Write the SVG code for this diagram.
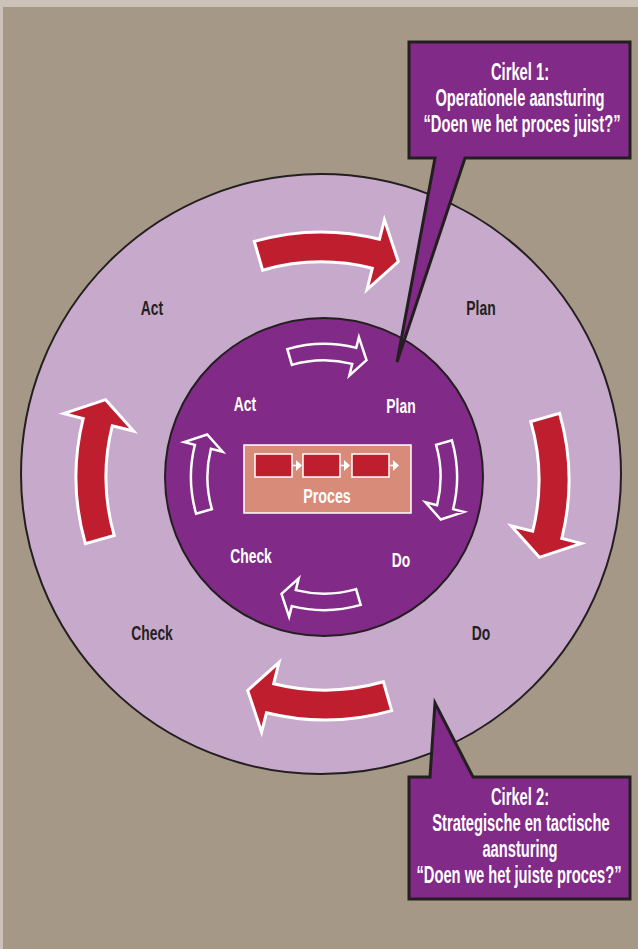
<svg xmlns="http://www.w3.org/2000/svg" width="638" height="949" viewBox="0 0 638 949">
<style>
.lbl{font-family:"Liberation Sans",Arial,sans-serif;font-weight:bold;text-anchor:middle}
.out{fill:#231f20;font-size:21px}
.inn{fill:#ffffff;font-size:21px}
.call{fill:#ffffff;font-size:23px}
.red{fill:#be1e2d;stroke:#ffffff;stroke-width:3;stroke-linejoin:miter}
.wht{fill:none;stroke:#ffffff;stroke-width:2.5;stroke-linejoin:miter}
.bubble{fill:#812a87;stroke:#231f20;stroke-width:3;stroke-linejoin:miter}
</style>
<defs>
<path id="bigArrow" d="M-66.7,-232.6 A242,242 0 0 1 58.5,-234.8 L63.4,-254.2 L77.3,-212.4 L46,-184.4 L51.3,-205.7 A212,212 0 0 0 -58.4,-203.8 Z"/>
<path id="smallArrow" d="M-36.7,-127.9 A133.1,133.1 0 0 1 32.2,-129.1 L34.9,-139.8 L42.5,-116.8 L25.3,-101.4 L28.2,-113.1 A116.6,116.6 0 0 0 -32.1,-112.1 Z"/>
</defs>
<rect x="0" y="0" width="638" height="949" fill="#cdc2b8"/>
<rect x="3" y="7" width="635" height="942" fill="#a69886"/>

<g id="outer-circle">
<circle cx="321" cy="474" r="300" fill="#c7aacb" stroke="#231f20" stroke-width="2"/>
</g>
<g id="inner-circle">
<circle cx="324" cy="477" r="159" fill="#812a87" stroke="#231f20" stroke-width="2"/>
</g>

<g id="connectors">
<use href="#bigArrow" class="red" transform="translate(321,474)"/>
<use href="#bigArrow" class="red" transform="translate(327,480) rotate(90)"/>
<use href="#bigArrow" class="red" transform="translate(325,478) rotate(180)"/>
<use href="#bigArrow" class="red" transform="translate(318,477) rotate(-90)"/>
<use href="#smallArrow" class="wht" transform="translate(324,477)"/>
<use href="#smallArrow" class="wht" transform="translate(324,477) rotate(90)"/>
<use href="#smallArrow" class="wht" transform="translate(324,477) rotate(180)"/>
<use href="#smallArrow" class="wht" transform="translate(324,477) rotate(-90)"/>
</g>

<g id="outer-labels">
<text class="lbl out" transform="translate(152,315) scale(0.66,1)">Act</text>
<text class="lbl out" transform="translate(481,315) scale(0.66,1)">Plan</text>
<text class="lbl out" transform="translate(152,640) scale(0.66,1)">Check</text>
<text class="lbl out" transform="translate(481,640) scale(0.66,1)">Do</text>
</g>
<g id="inner-labels">
<text class="lbl inn" transform="translate(245,411) scale(0.66,1)">Act</text>
<text class="lbl inn" transform="translate(401,413) scale(0.66,1)">Plan</text>
<text class="lbl inn" transform="translate(251,563) scale(0.66,1)">Check</text>
<text class="lbl inn" transform="translate(401,567) scale(0.66,1)">Do</text>
</g>

<g id="proces">
<rect x="244" y="445" width="167" height="68" fill="#d98b79" stroke="#ffffff" stroke-width="1.5"/>
<rect x="255" y="454" width="37" height="23" fill="#be1e2d" stroke="#ffffff" stroke-width="1.5"/>
<rect x="303" y="454" width="37" height="23" fill="#be1e2d" stroke="#ffffff" stroke-width="1.5"/>
<rect x="352" y="454" width="37" height="23" fill="#be1e2d" stroke="#ffffff" stroke-width="1.5"/>
<path d="M292,465.5 H297 M340,465.5 H345 M389,465.5 H394" stroke="#ffffff" stroke-width="1.5"/>
<path d="M296,460 L302,465.5 L296,471 Z M344,460 L350,465.5 L344,471 Z M393,460 L399,465.5 L393,471 Z" fill="#ffffff"/>
<text class="lbl inn" transform="translate(327,503) scale(0.68,1)">Proces</text>
</g>

<g id="callout-1">
<path class="bubble" d="M409,42 H630 V158 H465 L397,362 L435,158 H409 Z"/>
<text class="lbl call" transform="translate(520,80) scale(0.64,1)">Cirkel 1:</text>
<text class="lbl call" transform="translate(520,106) scale(0.64,1)">Operationele aansturing</text>
<text class="lbl call" transform="translate(522,132) scale(0.64,1)">“Doen we het proces juist?”</text>
</g>

<g id="callout-2">
<path class="bubble" d="M409,777 H430 L435,703 L473,777 H630 V899 H409 Z"/>
<text class="lbl call" transform="translate(520,805) scale(0.64,1)">Cirkel 2:</text>
<text class="lbl call" transform="translate(521,831) scale(0.64,1)">Strategische en tactische</text>
<text class="lbl call" transform="translate(520,857) scale(0.64,1)">aansturing</text>
<text class="lbl call" transform="translate(519,883) scale(0.64,1)">“Doen we het juiste proces?”</text>
</g>
</svg>
